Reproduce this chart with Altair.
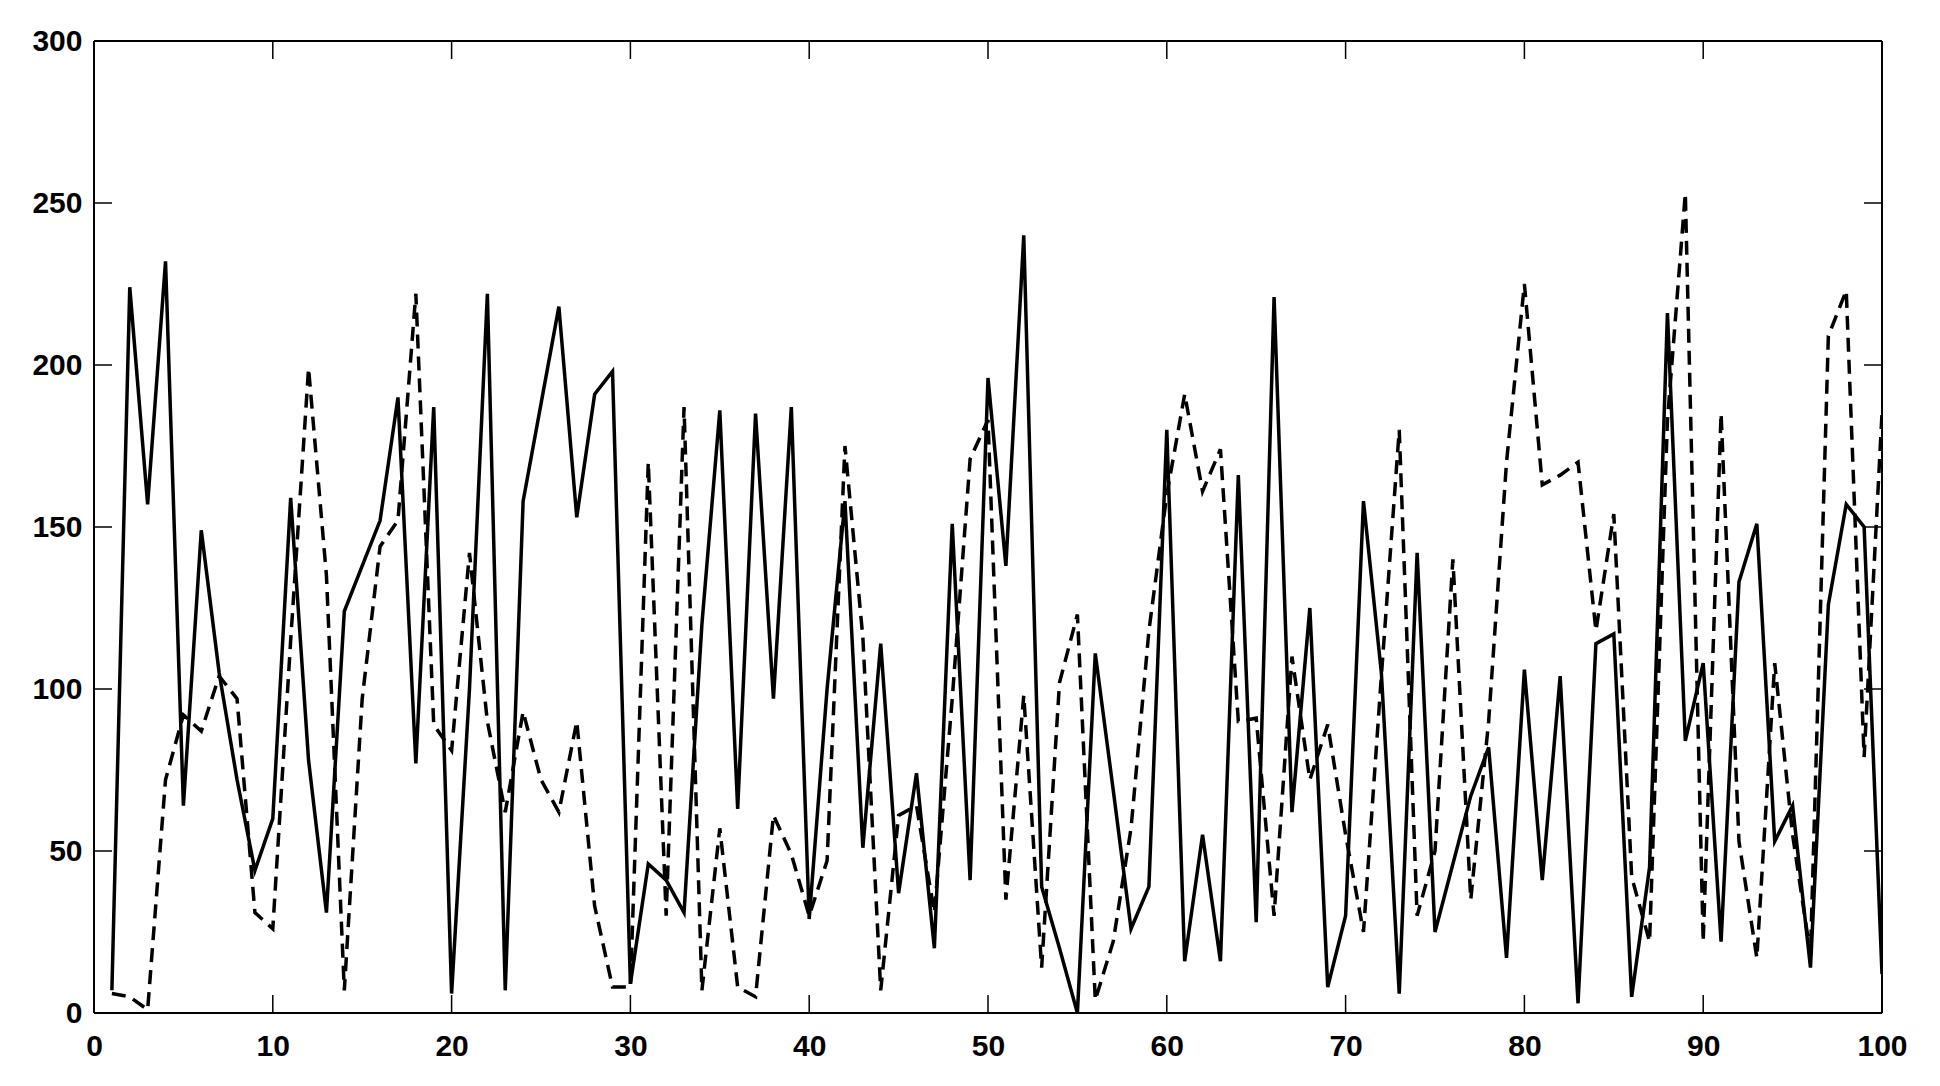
import altair as alt
import pandas as pd

# x positions 1..100
xs = list(range(1, 101))

solid_vals = [
    7, 224, 157, 232, 64, 149, 105, 72, 44, 60,
    159, 78, 31, 124, 138, 152, 190, 77, 187, 6,
    100, 222, 7, 158, 188, 218, 153, 191, 198, 9,
    46, 41, 31, 120, 186, 63, 185, 97, 187, 29,
    100, 158, 51, 114, 37, 74, 20, 151, 41, 196,
    138, 240, 39, 20, 0, 111, 69, 26, 39, 180,
    16, 55, 16, 166, 28, 221, 62, 125, 8, 30,
    158, 105, 6, 142, 25, 46, 67, 82, 17, 106,
    41, 104, 3, 114, 117, 5, 45, 216, 84, 108,
    22, 133, 151, 53, 64, 14, 126, 157, 150, 12,
]

dashed_vals = [
    6, 5, 1, 72, 92, 87, 104, 97, 31, 26,
    115, 199, 135, 7, 97, 144, 152, 222, 89, 81,
    142, 90, 62, 93, 72, 62, 90, 33, 8, 8,
    170, 30, 187, 7, 57, 8, 5, 61, 49, 30,
    47, 175, 116, 7, 61, 64, 31, 97, 171, 183,
    35, 98, 14, 102, 123, 4, 22, 57, 118, 160,
    191, 161, 174, 90, 91, 30, 110, 72, 89, 55,
    25, 104, 180, 30, 50, 140, 35, 90, 170, 225,
    163, 166, 170, 118, 154, 42, 22, 183, 253, 22,
    185, 53, 17, 108, 55, 18, 209, 223, 79, 185,
]

x_ticks = [0, 10, 20, 30, 40, 50, 60, 70, 80, 90, 100]
y_ticks = [0, 50, 100, 150, 200, 250, 300]

W = 1788
H = 972
TICK = 18

df = pd.DataFrame({"x": xs, "solid": solid_vals, "dashed": dashed_vals})
xt = pd.DataFrame({"xv": x_ticks})
yt = pd.DataFrame({"yv": y_ticks})
one = pd.DataFrame({"k": [0]})

FONT = "Liberation Sans"

xscale = alt.Scale(domain=[0, 100], nice=False, zero=False)
yscale = alt.Scale(domain=[0, 300], nice=False)

xaxis = alt.Axis(values=x_ticks, title=None, grid=False, domain=False, ticks=False,
                 labelFont=FONT, labelFontSize=30, labelFontWeight="bold",
                 labelColor="black", labelPadding=18, labelFlush=False)
yaxis = alt.Axis(values=y_ticks, title=None, grid=False, domain=False, ticks=False,
                 labelFont=FONT, labelFontSize=30, labelFontWeight="bold",
                 labelColor="black", labelPadding=12)

solid = alt.Chart(df).mark_line(color="black", strokeWidth=3.5, clip=True).encode(
    x=alt.X("x:Q", scale=xscale, axis=xaxis),
    y=alt.Y("solid:Q", scale=yscale, axis=yaxis),
)

dashed = alt.Chart(df).mark_line(color="black", strokeWidth=3.5, strokeDash=[14, 8], clip=True).encode(
    x=alt.X("x:Q", scale=xscale, axis=xaxis),
    y=alt.Y("dashed:Q", scale=yscale, axis=yaxis),
)

left_ticks = alt.Chart(yt).mark_rule(color="black", strokeWidth=1.5).encode(
    y=alt.Y("yv:Q", scale=yscale, axis=yaxis),
    x=alt.value(0), x2=alt.value(TICK),
)
right_ticks = alt.Chart(yt).mark_rule(color="black", strokeWidth=1.5).encode(
    y=alt.Y("yv:Q", scale=yscale, axis=yaxis),
    x=alt.value(W - TICK), x2=alt.value(W),
)
bottom_ticks = alt.Chart(xt).mark_rule(color="black", strokeWidth=1.5).encode(
    x=alt.X("xv:Q", scale=xscale, axis=xaxis),
    y=alt.value(H - TICK), y2=alt.value(H),
)
top_ticks = alt.Chart(xt).mark_rule(color="black", strokeWidth=1.5).encode(
    x=alt.X("xv:Q", scale=xscale, axis=xaxis),
    y=alt.value(0), y2=alt.value(TICK),
)

frame_top = alt.Chart(one).mark_rule(color="black", strokeWidth=2).encode(
    x=alt.value(0), x2=alt.value(W), y=alt.value(0))
frame_bottom = alt.Chart(one).mark_rule(color="black", strokeWidth=2).encode(
    x=alt.value(0), x2=alt.value(W), y=alt.value(H))
frame_left = alt.Chart(one).mark_rule(color="black", strokeWidth=2).encode(
    x=alt.value(0), y=alt.value(0), y2=alt.value(H))
frame_right = alt.Chart(one).mark_rule(color="black", strokeWidth=2).encode(
    x=alt.value(W), y=alt.value(0), y2=alt.value(H))

chart = alt.layer(
    left_ticks, right_ticks, bottom_ticks, top_ticks,
    solid, dashed,
    frame_top, frame_bottom, frame_left, frame_right,
).properties(
    width=W,
    height=H,
    autosize=alt.AutoSizeParams(type="none"),
    padding={"left": 86, "top": 33, "right": 40, "bottom": 60},
).configure_view(
    stroke="black", strokeWidth=2
).configure(background="white")

chart.save("out.html", embed_options={"renderer": "svg", "actions": False})
